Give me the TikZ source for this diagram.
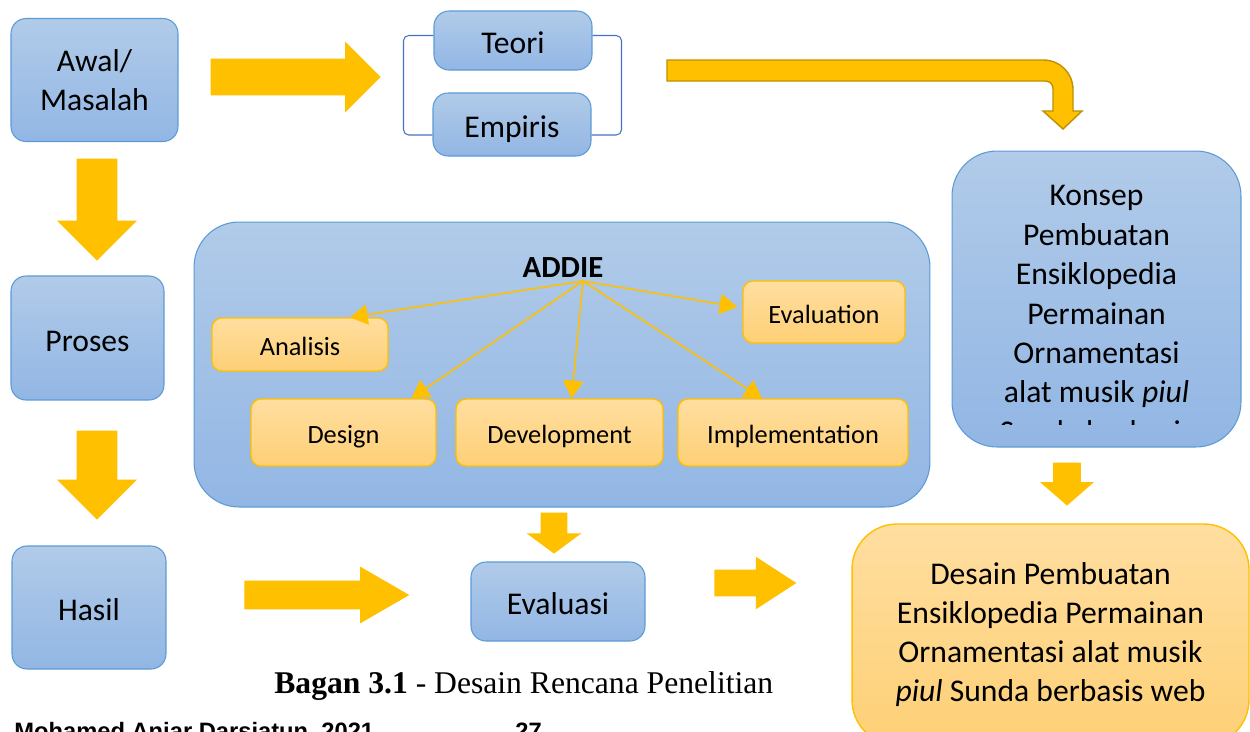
\documentclass[tikz,border=0pt]{standalone}
\usepackage{fontspec}
\setmainfont{Carlito}
\newfontfamily\captionfont{Liberation Serif}
\newfontfamily\footerfont{Liberation Sans}
\usetikzlibrary{arrows.meta,shapes.arrows}

\definecolor{boxblue}{RGB}{91,155,213}
\definecolor{bluetop}{RGB}{177,203,233}
\definecolor{bluebot}{RGB}{146,182,228}
\definecolor{gold}{RGB}{255,192,0}
\definecolor{golddark}{RGB}{191,144,0}
\definecolor{orangetop}{RGB}{255,222,160}
\definecolor{orangebot}{RGB}{254,208,118}
\definecolor{bracketblue}{RGB}{68,114,196}

\begin{document}
\begin{tikzpicture}[x=0.02cm,y=-0.02cm,
  blue box/.style={rectangle,rounded corners=0.3cm,draw=boxblue,line width=0.6pt,
    top color=bluetop,bottom color=bluebot,align=center,inner sep=0pt,
    font=\fontsize{18}{22}\selectfont},
  orange box/.style={rectangle,rounded corners=0.2cm,draw=gold,line width=0.8pt,
    top color=orangetop,bottom color=orangebot,align=center,inner sep=0pt,
    font=\fontsize{15}{18}\selectfont,text height=12.8pt,text depth=0pt},
  one line/.style={text height=15.3pt,text depth=0pt},
  block arrow/.style={single arrow,fill=gold,draw=none,inner sep=0pt,
    minimum height=#1,single arrow head indent=0pt,anchor=tip},
  thin arrow/.style={-{Triangle[width=11.5pt,length=10pt]},color=gold,line width=0.9pt},
  bracket line/.style={draw=bracketblue,line width=0.6pt,rounded corners=3pt}]

  \path[use as bounding box,fill=white] (0,0) rectangle (1250,731);

  % left column
  \node[blue box,minimum width=3.34cm,minimum height=2.46cm] (awal) at (94.5,80) {Awal/\\Masalah};
  \node[blue box,one line,minimum width=3.06cm,minimum height=2.48cm] (proses) at (87.5,338) {Proses};
  \node[blue box,one line,minimum width=3.08cm,minimum height=2.46cm] (hasil) at (89,607.5) {Hasil};

  % teori / empiris
  \node[blue box,one line,minimum width=3.16cm,minimum height=1.18cm] (teori) at (513,40.5) {Teori};
  \node[blue box,one line,minimum width=3.16cm,minimum height=1.26cm] (empiris) at (512,124.5) {Empiris};
  \draw[bracket line] ([yshift=0.1cm]teori.west) -- ++(-30,0) |- ([yshift=-0.21cm]empiris.west);
  \draw[bracket line] ([yshift=0.1cm]teori.east) -- ++(29,0) |- ([yshift=-0.21cm]empiris.east);

  % ADDIE
  \node[blue box,rounded corners=0.9cm,minimum width=14.72cm,minimum height=5.7cm] (addie box) at (562,364.5) {};
  \node[font=\fontsize{17.5}{21}\selectfont\bfseries] (addie) at (563,268) {ADDIE};
  \coordinate (hub) at (583,281);
  \node[orange box,minimum width=3.52cm,minimum height=1.06cm] (analisis) at (300,344.5) {Analisis};
  \node[orange box,minimum width=3.24cm,minimum height=1.24cm] (evaluation) at (824,312) {Evaluation};
  \node[orange box,minimum width=3.7cm,minimum height=1.34cm] (design) at (343.5,432.5) {Design};
  \node[orange box,minimum width=4.14cm,minimum height=1.34cm] (development) at (559.5,432.5) {Development};
  \node[orange box,minimum width=4.6cm,minimum height=1.34cm] (implementation) at (793,432.5) {Implementation};

  \path[every edge/.append style={thin arrow}]
    (hub) edge ([xshift=1cm]analisis.north)
          edge ([shift={(-0.1cm,0.1cm)}]evaluation.west)
          edge ([xshift=1.36cm]design.north)
          edge ([xshift=0.24cm]development.north)
          edge ([xshift=-0.62cm]implementation.north);

  % evaluasi and result
  \node[blue box,one line,minimum width=3.48cm,minimum height=1.58cm] (evaluasi) at (558,601.5) {Evaluasi};
  \node[blue box,rounded corners=0.9cm,minimum width=5.78cm,minimum height=5.92cm] (konsep) at (1096.5,299) {};
  \begin{scope}
    \clip (952,151) rectangle (1241,424);
    \node[align=center,font=\fontsize{18}{22.4}\selectfont] (konsep text) at (1096.5,314)
      {Konsep\\Pembuatan\\Ensiklopedia\\Permainan\\Ornamentasi\\alat musik \textit{piul}\\Sunda berbasis};
  \end{scope}
  \node[orange box,rounded corners=0.9cm,minimum width=7.94cm,minimum height=4.42cm,
    text height=,text depth=,font=\fontsize{18}{22.2}\selectfont] (desain) at (1050.5,634.5)
    {Desain Pembuatan\\Ensiklopedia Permainan\\Ornamentasi alat musik\\\textit{piul} Sunda berbasis web};

  % block arrows
  \node[block arrow=3.4cm,inner ysep=0.36cm,single arrow head extend=0.34cm,single arrow tip angle=90] (arr1) at (381,77) {};
  \node[block arrow=2.04cm,rotate=-90,inner ysep=0.4cm,single arrow head extend=0.39cm,single arrow tip angle=90] (arr2) at (97,261) {};
  \node[block arrow=1.78cm,rotate=-90,inner ysep=0.4cm,single arrow head extend=0.39cm,single arrow tip angle=90] (arr3) at (97,520) {};
  \node[block arrow=3.3cm,inner ysep=0.28cm,single arrow head extend=0.28cm,single arrow tip angle=60] (arr4) at (410,595) {};
  \node[block arrow=0.82cm,rotate=-90,inner ysep=0.26cm,single arrow head extend=0.28cm,single arrow tip angle=107] (arr5) at (554,554) {};
  \node[block arrow=1.64cm,inner ysep=0.26cm,single arrow head extend=0.26cm,single arrow tip angle=66] (arr6) at (797,583) {};
  \node[block arrow=0.86cm,rotate=-90,inner ysep=0.27cm,single arrow head extend=0.26cm,single arrow tip angle=98] (arr7) at (1067,506) {};

  % bent arrow to konsep
  \draw[fill=gold,draw=golddark,line width=0.8pt] (667,60) -- (1043,60)
    .. controls (1060,60) and (1073,73) .. (1073,90) -- (1073,111) -- (1082,111)
    -- (1063,129) -- (1043,111) -- (1053,111) -- (1053,89)
    .. controls (1053,84) and (1050,81) .. (1045,81) -- (667,81) -- cycle;

  % caption and footer
  \node[anchor=base west,inner sep=0pt,font=\captionfont\fontsize{18}{22}\selectfont] (caption) at (274,693)
    {\textbf{Bagan 3.1} - Desain Rencana Penelitian};
  \node[anchor=base west,inner sep=0pt,font=\footerfont\bfseries\fontsize{13.5}{16}\selectfont] (penulis) at (14,739)
    {Mohamed Anjar Darsiatun, 2021};
  \node[anchor=base west,inner sep=0pt,font=\footerfont\bfseries\fontsize{13.5}{16}\selectfont] (halaman) at (515,739) {27};
\end{tikzpicture}
\end{document}
